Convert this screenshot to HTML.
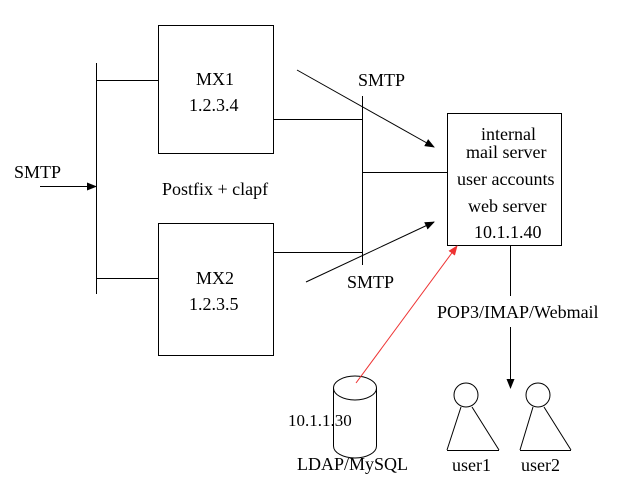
<!DOCTYPE html>
<html><head><style>body{margin:0;background:#fff}svg{display:block}text{font-family:"Liberation Serif",serif;font-size:18px;fill:#000}</style></head><body>
<svg width="640" height="480" viewBox="0 0 640 480" xmlns="http://www.w3.org/2000/svg">
<defs><marker id="a" markerWidth="10" markerHeight="8" refX="9" refY="4" orient="auto" markerUnits="userSpaceOnUse"><path d="M0,0L10,4L0,8z" fill="#000"/></marker>
<marker id="r" markerWidth="10" markerHeight="8" refX="9" refY="4" orient="auto" markerUnits="userSpaceOnUse"><path d="M0,0L10,4L0,8z" fill="#e33"/></marker></defs>
<g stroke="#000" stroke-width="1" fill="none">
<rect x="158.5" y="25.5" width="115" height="128"/>
<rect x="158.5" y="223.5" width="115" height="132"/>
<rect x="447.5" y="113.5" width="114" height="132"/>
<line x1="96.5" y1="63" x2="96.5" y2="294"/>
<line x1="96" y1="80.5" x2="158" y2="80.5"/>
<line x1="96" y1="278.5" x2="158" y2="278.5"/>
<line x1="40" y1="186.5" x2="96" y2="186.5" marker-end="url(#a)"/>
<line x1="362.5" y1="96" x2="362.5" y2="265"/>
<line x1="273" y1="119.5" x2="362" y2="119.5"/>
<line x1="273" y1="252.5" x2="362" y2="252.5"/>
<line x1="362" y1="172.5" x2="447" y2="172.5"/>
<line x1="297" y1="70" x2="434" y2="147" marker-end="url(#a)"/>
<line x1="306" y1="282" x2="434" y2="222" marker-end="url(#a)"/>
<line x1="510.5" y1="245" x2="510.5" y2="296"/>
<line x1="510.5" y1="327" x2="510.5" y2="388" marker-end="url(#a)"/>
<path d="M333.5,388 L333.5,446 A21.5,12 0 0 0 376.5,446 L376.5,388"/>
<ellipse cx="355" cy="388" rx="21.5" ry="12"/>
<circle cx="466" cy="395" r="12"/>
<path d="M447,450 L461,407 M472,407 L499,450 M447,450.5 L499,450.5"/>
<circle cx="538" cy="395" r="12"/>
<path d="M520,450 L533,407 M544,407 L571,450 M520,450.5 L571,450.5"/>
</g>
<line x1="356" y1="383" x2="457" y2="246" stroke="#e33" stroke-width="1" marker-end="url(#r)"/>
<text x="196" y="85">MX1</text>
<text x="189" y="111">1.2.3.4</text>
<text x="196" y="284">MX2</text>
<text x="189" y="310">1.2.3.5</text>
<text x="162" y="195">Postfix + clapf</text>
<text x="14" y="178">SMTP</text>
<text x="358" y="86">SMTP</text>
<text x="347" y="288">SMTP</text>
<text x="481" y="140">internal</text>
<text x="466" y="158">mail server</text>
<text x="457" y="185">user accounts</text>
<text x="468" y="212">web server</text>
<text x="474" y="238">10.1.1.40</text>
<text x="437" y="318">POP3/IMAP/Webmail</text>
<text x="288" y="426" style="font-size:17px">10.1.1.30</text>
<text x="297" y="470">LDAP/MySQL</text>
<text x="452" y="471">user1</text>
<text x="521" y="471">user2</text>
</svg>
</body></html>
